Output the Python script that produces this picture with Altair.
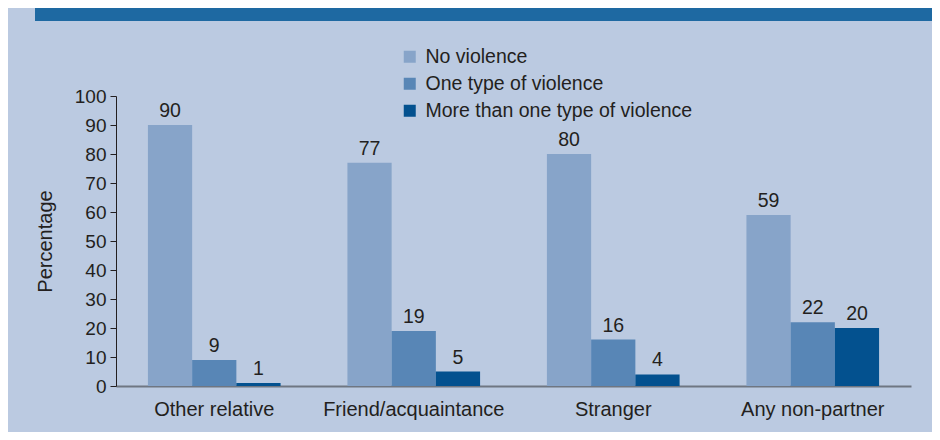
import altair as alt
import pandas as pd

categories = ["Other relative", "Friend/acquaintance", "Stranger", "Any non-partner"]
series = ["No violence", "One type of violence", "More than one type of violence"]
no_violence = [90, 77, 80, 59]
one_type = [9, 19, 16, 22]
more_than_one = [1, 5, 4, 20]
colors = ["#87A4C9", "#5886B6", "#03518F"]

rows = []
for i, c in enumerate(categories):
    for s, vals in zip(series, [no_violence, one_type, more_than_one]):
        rows.append({"category": c, "series": s, "value": vals[i]})
df = pd.DataFrame(rows)

FONT = "Liberation Sans"
TXT = "#231F20"

x_enc = alt.X("category:N", sort=categories, title=None,
              scale=alt.Scale(paddingInner=0.335, paddingOuter=0.16),
              axis=alt.Axis(labelAngle=0, labelFontSize=20, labelColor=TXT, labelFont=FONT,
                            labelLimit=400,
                            ticks=False, domainColor="#6F7682", domainWidth=2, labelPadding=13))
xo_enc = alt.XOffset("series:N", sort=series, scale=alt.Scale(paddingInner=0, paddingOuter=0))
y_enc = alt.Y("value:Q", scale=alt.Scale(domain=[0, 100], nice=False),
              axis=alt.Axis(values=list(range(0, 101, 10)), title="Percentage", grid=False,
                            labelOverlap=False, labelFlush=False,
                            tickSize=6, tickColor=TXT, domainColor=TXT, labelFontSize=19,
                            labelColor=TXT, labelFont=FONT, labelPadding=4,
                            titleFontSize=20, titleFont=FONT, titleColor=TXT,
                            titleFontWeight="normal", titleX=-71, titleY=145,
                            titleAngle=270, titleAlign="center", titleBaseline="middle"))

base = alt.Chart(df).encode(x=x_enc, xOffset=xo_enc, y=y_enc)

bars = base.mark_bar().encode(
    color=alt.Color("series:N", sort=series,
                    scale=alt.Scale(domain=series, range=colors),
                    legend=alt.Legend(title=None, orient="none", legendX=284, legendY=-49,
                                      symbolType="square", symbolSize=144, symbolStrokeWidth=0,
                                      labelFontSize=19.5, labelFont=FONT, labelColor=TXT,
                                      labelOffset=6, rowPadding=6, labelLimit=400)),
)

labels = base.mark_text(baseline="bottom", dy=-4, fontSize=19.5, font=FONT, color=TXT).encode(
    text=alt.Text("value:Q", format="d"),
)

banner = alt.Chart(pd.DataFrame({"a": [0]})).mark_rect(color="#1E69A2").encode(
    x=alt.value(-81), x2=alt.value(816), y=alt.value(-88), y2=alt.value(-75)
)

chart = alt.layer(banner, bars, labels).properties(
    width=795, height=290,
    padding={"left": 108, "top": 88, "right": 21, "bottom": 46},
    autosize=alt.AutoSizeParams(type="none"),
    background="#BBCAE1",
).configure_view(stroke=None)

chart.save("out.html", embed_options={"renderer": "svg", "actions": False})
